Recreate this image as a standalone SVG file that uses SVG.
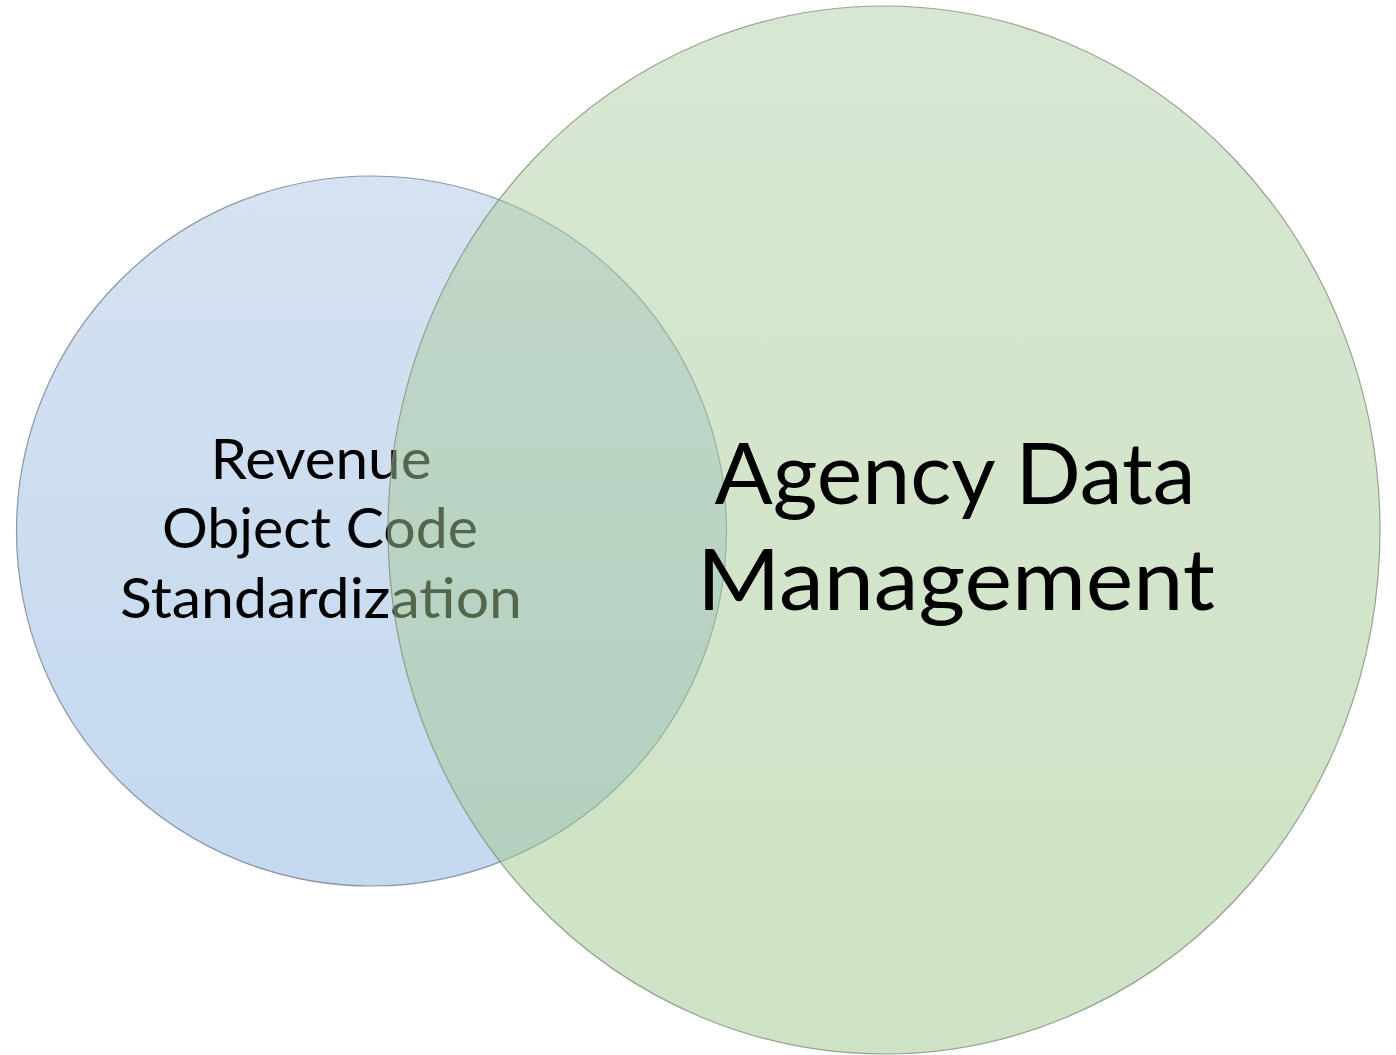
<svg xmlns="http://www.w3.org/2000/svg" width="1396" height="1055" viewBox="0 0 1396 1055">
  <style>
    .lbl { font-family: Lato, "Open Sans", "Liberation Sans", sans-serif; fill: #000; text-anchor: middle; }
    .small { font-size: 57px; }
    .big { font-size: 86px; }
  </style>
  <defs>
    <linearGradient id="gBlue" x1="0" y1="0" x2="0" y2="1">
      <stop offset="0" stop-color="#d5e2f1"/>
      <stop offset="1" stop-color="#c4d8ef"/>
    </linearGradient>
    <linearGradient id="gGreen" x1="0" y1="0" x2="0" y2="1">
      <stop offset="0" stop-color="#b2cfa5"/>
      <stop offset="1" stop-color="#9dc68a"/>
    </linearGradient>
  </defs>
  <rect width="1396" height="1055" fill="#ffffff"/>
  <g id="node-revenue">
    <circle cx="371.5" cy="531" r="355" fill="url(#gBlue)" stroke="#8a97a6" stroke-width="1.2"/>
    <text class="lbl small" x="321" y="479" textLength="221" lengthAdjust="spacingAndGlyphs">Revenue</text>
    <text class="lbl small" x="320" y="548" textLength="316" lengthAdjust="spacingAndGlyphs">Object Code</text>
    <text class="lbl small" x="321" y="618" textLength="402" lengthAdjust="spacingAndGlyphs">Standardization</text>
  </g>
  <g id="node-agency">
    <ellipse cx="884" cy="530" rx="496" ry="524" fill="url(#gGreen)" fill-opacity="0.5" stroke="#7f8f7a" stroke-opacity="0.8" stroke-width="1.2"/>
    <text class="lbl big" x="955" y="504" textLength="481" lengthAdjust="spacingAndGlyphs">Agency Data</text>
    <text class="lbl big" x="956" y="610" textLength="518" lengthAdjust="spacingAndGlyphs">Management</text>
  </g>
  <g id="connectors"></g>
</svg>
